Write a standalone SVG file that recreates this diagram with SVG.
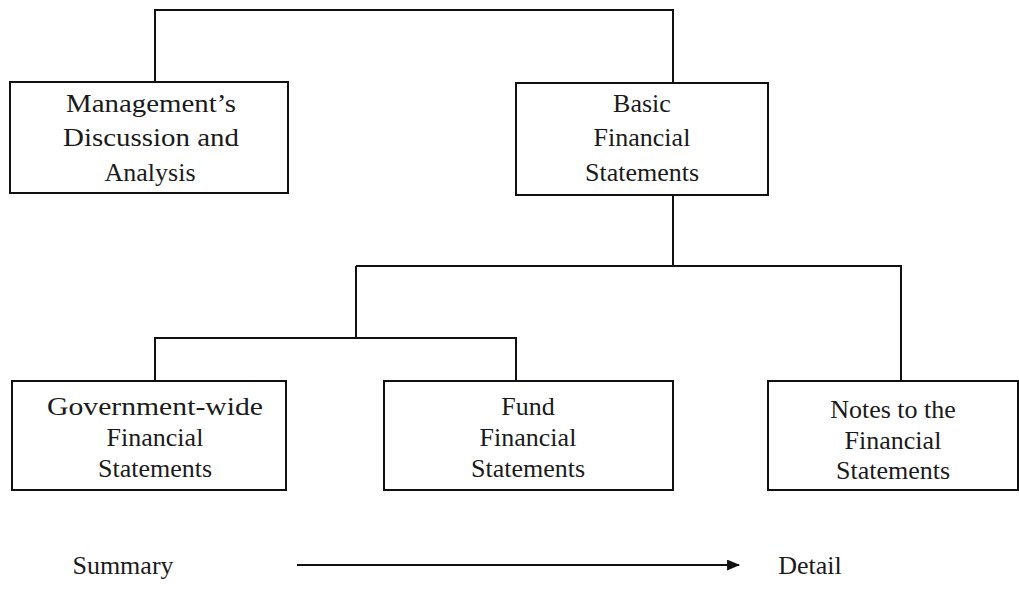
<svg xmlns="http://www.w3.org/2000/svg" width="1019" height="593" viewBox="0 0 1019 593">
<style>
.box{fill:#fff;stroke:#111;stroke-width:2}
.ln{fill:none;stroke:#111;stroke-width:2}
text{font-family:"Liberation Serif","Times New Roman",serif;font-size:26px;fill:#1a1a1a;text-anchor:middle}
</style>
<defs>
<marker id="ah" viewBox="0 0 12 10" refX="11" refY="5" markerWidth="6.5" markerHeight="5.5" orient="auto" markerUnits="strokeWidth">
<path d="M0,0 L12,5 L0,10 z" fill="#111"/>
</marker>
</defs>
<rect width="1019" height="593" fill="#fff"/>
<g id="connectors">
<path class="ln" d="M155,82 V10 H673 V82"/>
<path class="ln" d="M673,195 V266"/>
<path class="ln" d="M356,266 H901 V380"/>
<path class="ln" d="M356,266 V338"/>
<path class="ln" d="M155,380 V338 H516 V380"/>
<line class="ln" x1="297" y1="565" x2="739" y2="565" marker-end="url(#ah)"/>
</g>
<g id="mda">
<rect class="box" x="10" y="82" width="278" height="111"/>
<text x="151" y="112" textLength="170" lengthAdjust="spacingAndGlyphs">Management’s</text>
<text x="151" y="146" textLength="176" lengthAdjust="spacingAndGlyphs">Discussion and</text>
<text x="150" y="181">Analysis</text>
</g>
<g id="bfs">
<rect class="box" x="516" y="83" width="252" height="112"/>
<text x="642" y="112">Basic</text>
<text x="642" y="146">Financial</text>
<text x="642" y="181">Statements</text>
</g>
<g id="gov">
<rect class="box" x="12" y="381" width="274" height="109"/>
<text x="155" y="415" textLength="216" lengthAdjust="spacingAndGlyphs">Government-wide</text>
<text x="155" y="446">Financial</text>
<text x="155" y="477">Statements</text>
</g>
<g id="fund">
<rect class="box" x="384" y="381" width="289" height="109"/>
<text x="528" y="415">Fund</text>
<text x="528" y="446">Financial</text>
<text x="528" y="477">Statements</text>
</g>
<g id="notes">
<rect class="box" x="768" y="381" width="250" height="109"/>
<text x="893" y="418">Notes to the</text>
<text x="893" y="449">Financial</text>
<text x="893" y="479">Statements</text>
</g>
<g id="legend">
<text x="123" y="574">Summary</text>
<text x="810" y="574">Detail</text>
</g>
</svg>
